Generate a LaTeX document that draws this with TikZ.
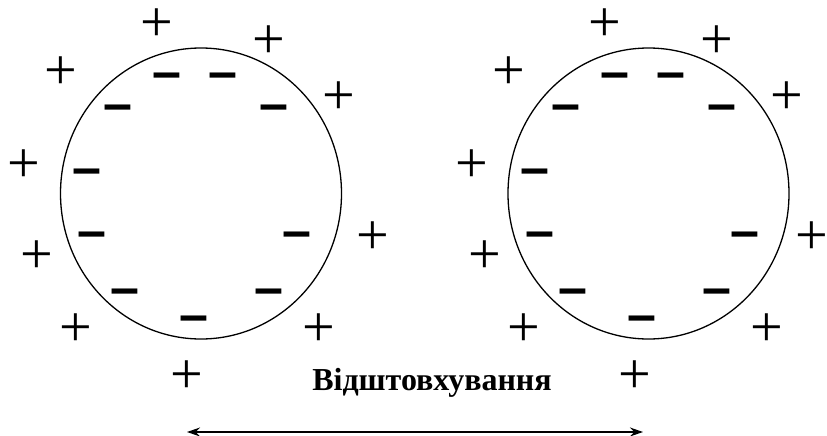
\documentclass[tikz,border=0pt]{standalone}
\usepackage{fontspec}
\setmainfont{Liberation Serif}
\newfontfamily\signfont{Liberation Sans}
\usetikzlibrary{arrows.meta}
\tikzset{
  plus/.style={inner sep=0pt, font=\fontsize{58}{58}\selectfont},
  minus/.style={inner sep=0pt, yshift=-5.5pt, font=\signfont\bfseries\fontsize{52}{52}\selectfont},
  ball/.style={line width=1.3pt},
}
\begin{document}
\begin{tikzpicture}[x=1pt, y=-1pt, line join=round, line cap=round]
	\useasboundingbox (0,0) rectangle (827,436);
	\foreach \b/\dx/\px in {L/0/373, R/447.5/364} {
		\begin{scope}[xshift=\dx]
		\draw[ball] (201,193.5) ellipse (140.5 and 145.5);
		% outside
		\node[plus] (p1\b) at (157,25) {+};
		\node[plus] (p2\b) at (269,42) {+};
		\node[plus] (p3\b) at (61,73) {+};
		\node[plus] (p4\b) at (339,98) {+};
		\node[plus] (p5\b) at (24,166) {+};
		\node[plus] (p6\b) at (\px,238) {+};
		\node[plus] (p7\b) at (37,257) {+};
		\node[plus] (p8\b) at (76,330) {+};
		\node[plus] (p9\b) at (319,330) {+};
		\node[plus] (p10\b) at (187,377) {+};
		% inside
		\node[minus] (m1\b) at (167,76) {–};
		\node[minus] (m2\b) at (223,76) {–};
		\node[minus] (m3\b) at (118,108) {–};
		\node[minus] (m4\b) at (274,108) {–};
		\node[minus] (m5\b) at (87,172) {–};
		\node[minus] (m6\b) at (92,235) {–};
		\node[minus] (m7\b) at (297,235) {–};
		\node[minus] (m8\b) at (125,292) {–};
		\node[minus] (m9\b) at (269,292) {–};
		\node[minus] (m10\b) at (194,319) {–};
		\end{scope}
	}
	\node[font=\bfseries\fontsize{32}{32}\selectfont] (push) at (432,383) {Відштовхування};
	\coordinate (endL) at (187,432);
	\coordinate (endR) at (643,432);
	\draw[line width=1.3pt, {Stealth[length=13pt, width=9pt]}-{Stealth[length=13pt, width=9pt]}] (endL) -- (endR);
\end{tikzpicture}
\end{document}
